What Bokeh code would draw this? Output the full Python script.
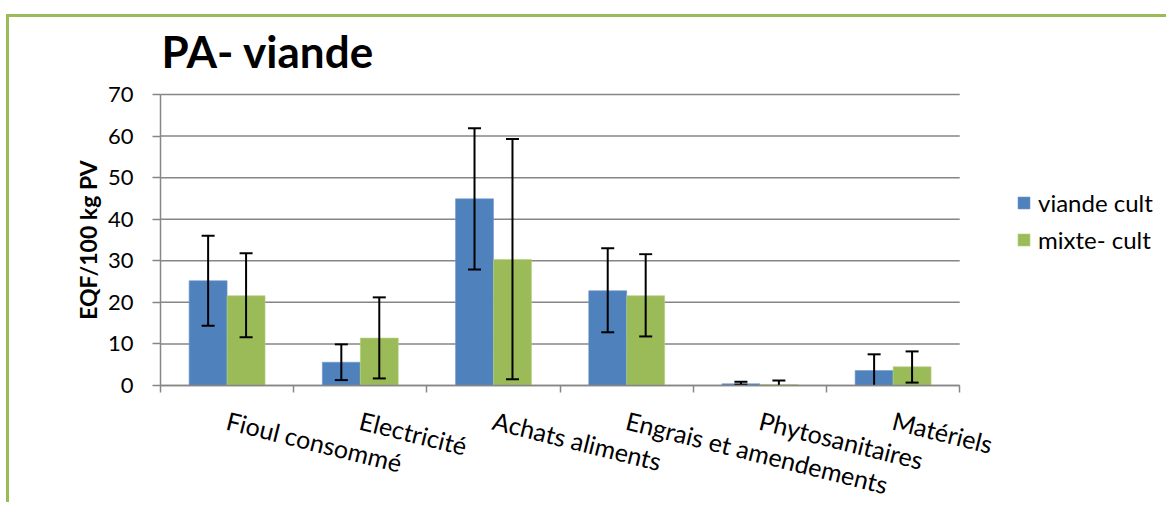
import math
from bokeh.plotting import figure
from bokeh.models import Range1d, FixedTicker, ColumnDataSource, Legend, LegendItem
from bokeh.core.properties import value
from bokeh.embed import file_html
from bokeh.resources import INLINE

categories = ["Fioul consommé", "Electricité", "Achats aliments",
              "Engrais et amendements", "Phytosanitaires", "Matériels"]
series_names = ["viande cult", "mixte- cult"]
viande = [25.2, 5.6, 44.9, 22.8, 0.4, 3.6]
viande_low = [14.4, 1.3, 27.9, 12.8, 0.2, 0.0]
viande_high = [36.0, 9.9, 61.9, 33.0, 0.9, 7.5]
mixte = [21.6, 11.4, 30.3, 21.6, 0.25, 4.5]
mixte_low = [11.6, 1.7, 1.5, 11.8, 0.0, 0.7]
mixte_high = [31.8, 21.2, 59.3, 31.6, 1.2, 8.2]
y_ticks = [0, 10, 20, 30, 40, 50, 60, 70]
title_text = "PA- viande"
y_label = "EQF/100 kg PV"

BLUE = "#4F81BD"
GREEN = "#9BBB59"
GRAY = "#868686"
FONT = "Lato"

# layout constants (pixels)
W, H = 1160, 488
ORIGIN_X, ORIGIN_Y = 151, 368        # canvas position of data (0, 0)
PX_X = 133.2                         # pixels per category
Y_MAX = 70
PX_Y = 291.0 / Y_MAX                 # pixels per unit

n = len(categories)
bar_w = 0.285
centers = [i + 0.5 for i in range(n)]

x_range = Range1d(-ORIGIN_X / PX_X, (W - ORIGIN_X) / PX_X)
y_range = Range1d(-(H - ORIGIN_Y) / PX_Y, ORIGIN_Y / PX_Y)

p = figure(width=W, height=H, x_range=x_range, y_range=y_range, title=None,
           output_backend="svg", toolbar_location=None,
           min_border_left=0, min_border_right=0, min_border_top=0,
           min_border_bottom=0)
p.styles = {"border-top": "3px solid " + GREEN, "border-left": "3px solid " + GREEN,
            "margin-left": "6px", "margin-top": "14px"}
p.outline_line_color = None
p.background_fill_color = "white"
p.border_fill_color = "white"
p.xgrid.visible = False
p.ygrid.visible = False

# horizontal grid lines across the category area
p.segment(x0=[0] * len(y_ticks), x1=[n] * len(y_ticks), y0=y_ticks, y1=y_ticks,
          line_color=GRAY, line_width=1.5, level="underlay")


def whisker_cols(low):
    # the chart is cut at 0: no lower cap where the bar reaches the axis
    return dict(low=[max(v, 0.0) for v in low],
                low_cap=[v if v > 0 else float("nan") for v in low])


src_v = ColumnDataSource(dict(x=[c - bar_w / 2 for c in centers], top=viande,
                              high=viande_high, **whisker_cols(viande_low)))
src_m = ColumnDataSource(dict(x=[c + bar_w / 2 for c in centers], top=mixte,
                              high=mixte_high, **whisker_cols(mixte_low)))

r_v = p.vbar(x="x", top="top", width=bar_w, source=src_v, fill_color=BLUE,
             line_color="#6F9AD0", line_width=0.6)
r_m = p.vbar(x="x", top="top", width=bar_w, source=src_m, fill_color=GREEN,
             line_color="#B5D07F", line_width=0.6)

for src in (src_v, src_m):
    p.segment(x0="x", y0="low", x1="x", y1="high", source=src,
              line_color="black", line_width=2)
    p.scatter(x="x", y="low_cap", source=src, marker="dash", size=13,
              line_color="black", line_width=2)
    p.scatter(x="x", y="high", source=src, marker="dash", size=13,
              line_color="black", line_width=2)

# x axis at y = 0: category labels at centres, tick marks at boundaries
p.xaxis.fixed_location = 0
p.xaxis.bounds = (0, n)
p.xaxis.ticker = FixedTicker(ticks=centers, minor_ticks=list(range(n + 1)))
p.xaxis.major_label_overrides = {c: lab for c, lab in zip(centers, categories)}
p.xaxis.major_tick_out = 0
p.xaxis.major_tick_in = 0
p.xaxis.minor_tick_out = 7
p.xaxis.minor_tick_in = 0
p.xaxis.minor_tick_line_color = GRAY
p.xaxis.minor_tick_line_width = 1.5
p.xaxis.axis_line_color = GRAY
p.xaxis.axis_line_width = 1.5
p.xaxis.major_label_orientation = -0.245
p.xaxis.major_label_standoff = 27
p.xaxis.major_label_text_font = FONT
p.xaxis.major_label_text_font_size = "25px"
p.xaxis.major_label_text_color = "black"

# y axis at x = 0
p.yaxis.fixed_location = 0
p.yaxis.bounds = (0, Y_MAX)
p.yaxis.ticker = FixedTicker(ticks=y_ticks)
p.yaxis.minor_tick_line_color = None
p.yaxis.major_tick_out = 8
p.yaxis.major_tick_in = 0
p.yaxis.major_tick_line_color = GRAY
p.yaxis.major_tick_line_width = 1.5
p.yaxis.axis_line_color = GRAY
p.yaxis.axis_line_width = 1.5
p.yaxis.major_label_standoff = 19
p.yaxis.major_label_text_font = FONT
p.yaxis.major_label_text_font_size = "22px"
p.yaxis.major_label_text_color = "black"

# y axis title
p.text(x=[0], y=[Y_MAX / 2], text=[y_label], x_offset=-73, angle=math.pi / 2,
       text_font=value(FONT), text_font_style="bold", text_font_size="23px",
       text_color="black", text_align="center", text_baseline="middle")

# chart title
p.text(x=[0], y=[Y_MAX], text=[title_text], x_offset=1, y_offset=-44,
       text_font=value(FONT), text_font_style="bold", text_font_size="44px",
       text_color="black", text_align="left", text_baseline="alphabetic")

legend = Legend(items=[LegendItem(label=series_names[0], renderers=[r_v]),
                       LegendItem(label=series_names[1], renderers=[r_m])],
                location=(1007, 251), orientation="vertical")
legend.glyph_width = 15
legend.glyph_height = 15
legend.label_standoff = 7
legend.label_text_font = FONT
legend.label_text_font_size = "24px"
legend.label_text_color = "black"
legend.label_height = 20
legend.spacing = 8
legend.padding = 0
legend.margin = 0
legend.border_line_color = None
legend.background_fill_alpha = 0
p.add_layout(legend, "center")

open("out.html", "w").write(file_html(p, INLINE))
